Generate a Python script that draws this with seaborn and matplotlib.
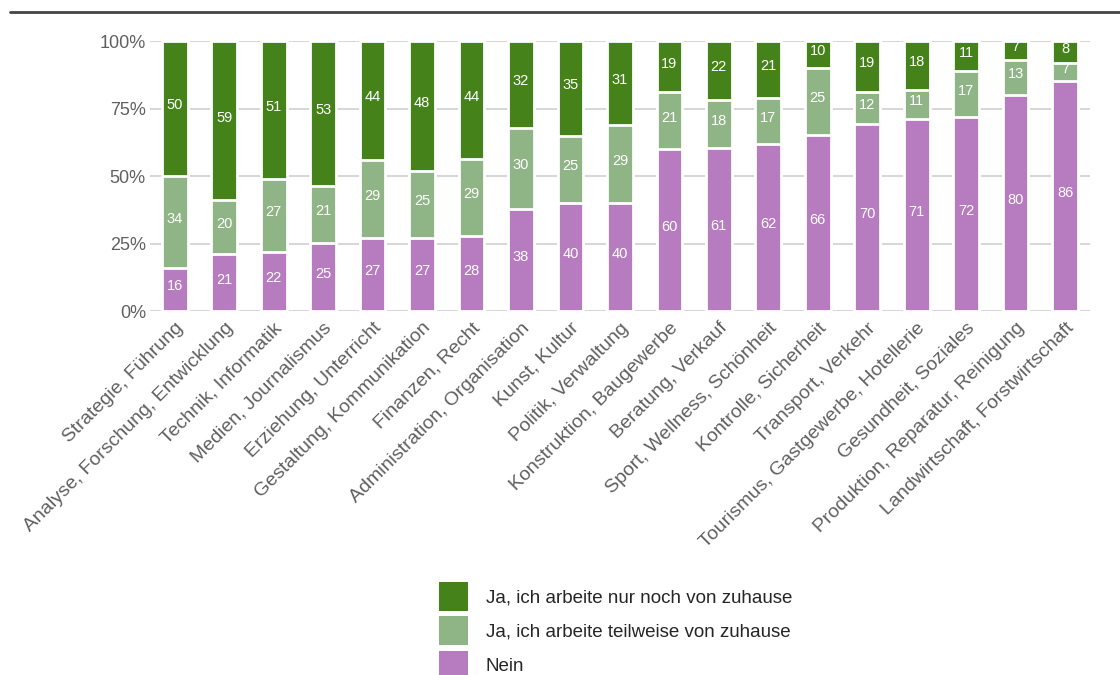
import matplotlib
matplotlib.use("Agg")
import matplotlib.pyplot as plt
from matplotlib.lines import Line2D
from matplotlib.patches import Patch
import numpy as np
import pandas as pd
import seaborn as sns

categories = [
    "Strategie, Führung",
    "Analyse, Forschung, Entwicklung",
    "Technik, Informatik",
    "Medien, Journalismus",
    "Erziehung, Unterricht",
    "Gestaltung, Kommunikation",
    "Finanzen, Recht",
    "Administration, Organisation",
    "Kunst, Kultur",
    "Politik, Verwaltung",
    "Konstruktion, Baugewerbe",
    "Beratung, Verkauf",
    "Sport, Wellness, Schönheit",
    "Kontrolle, Sicherheit",
    "Transport, Verkehr",
    "Tourismus, Gastgewerbe, Hotellerie",
    "Gesundheit, Soziales",
    "Produktion, Reparatur, Reinigung",
    "Landwirtschaft, Forstwirtschaft",
]
nein = [16, 21, 22, 25, 27, 27, 28, 38, 40, 40, 60, 61, 62, 66, 70, 71, 72, 80, 86]
teilweise = [34, 20, 27, 21, 29, 25, 29, 30, 25, 29, 21, 18, 17, 25, 12, 11, 17, 13, 7]
nur = [50, 59, 51, 53, 44, 48, 44, 32, 35, 31, 19, 22, 21, 10, 19, 18, 11, 7, 8]

series_names = [
    "Ja, ich arbeite nur noch von zuhause",
    "Ja, ich arbeite teilweise von zuhause",
    "Nein",
]
col_nur = "#45831a"
col_teil = "#8fb485"
col_nein = "#b67cbf"

sns.set_theme(style="white")
plt.rcParams["font.family"] = ["Liberation Sans", "DejaVu Sans"]

df = pd.DataFrame({"cat": categories, "nein": nein, "teil": teilweise, "nur": nur})
total = df["nein"] + df["teil"] + df["nur"]
df["p_nein"] = df["nein"] / total * 100
df["p_teil"] = df["teil"] / total * 100
df["p_nur"] = df["nur"] / total * 100
df["cum1"] = df["p_nein"]
df["cum2"] = df["p_nein"] + df["p_teil"]
df["cum3"] = df["cum2"] + df["p_nur"]

fig = plt.figure(figsize=(11.2, 6.75), dpi=100)
ax = fig.add_axes([0.134, 0.539, 0.839, 0.400])

# cumulative bars drawn from the back to the front
for col, color in (("cum3", col_nur), ("cum2", col_teil), ("cum1", col_nein)):
    sns.barplot(data=df, x="cat", y=col, color=color, width=0.52,
                edgecolor="white", linewidth=2.0, saturation=1, ax=ax, zorder=3)

for i, row in df.iterrows():
    for bottom, val, raw in ((0, row["p_nein"], row["nein"]),
                             (row["cum1"], row["p_teil"], row["teil"]),
                             (row["cum2"], row["p_nur"], row["nur"])):
        ax.text(i, bottom + val / 2 + 1.2, f"{raw:d}", ha="center", va="center",
                color="white", fontsize=10.5, zorder=5)

ax.set_ylim(0, 100)
ax.set_xlim(-0.5, len(categories) - 0.5)
ax.set_yticks([0, 25, 50, 75, 100])
ax.set_yticklabels(["0%", "25%", "50%", "75%", "100%"])
ax.yaxis.grid(True, color="#d0d0d0", linewidth=1.2, zorder=0)
ax.set_axisbelow(True)
ax.set_xlabel("")
ax.set_ylabel("")
for s in ax.spines.values():
    s.set_visible(False)
ax.tick_params(axis="y", length=0, pad=3, labelsize=13, labelcolor="#606060")
ax.tick_params(axis="x", length=0, pad=6, labelsize=14, labelcolor="#606060")
plt.setp(ax.get_xticklabels(), rotation=45, ha="right", rotation_mode="anchor")

handles = [Patch(facecolor=c, edgecolor="none") for c in (col_nur, col_teil, col_nein)]
fig.legend(handles, series_names, loc="upper left", bbox_to_anchor=(0.392, 0.138),
           frameon=False, fontsize=13.5, handlelength=1.55, handleheight=2.0,
           labelspacing=0.3, handletextpad=0.95, borderpad=0, borderaxespad=0)

fig.add_artist(Line2D([0.009, 1.0], [0.982, 0.982], color="#444444", linewidth=2))

fig.savefig("out.png", dpi=100)
